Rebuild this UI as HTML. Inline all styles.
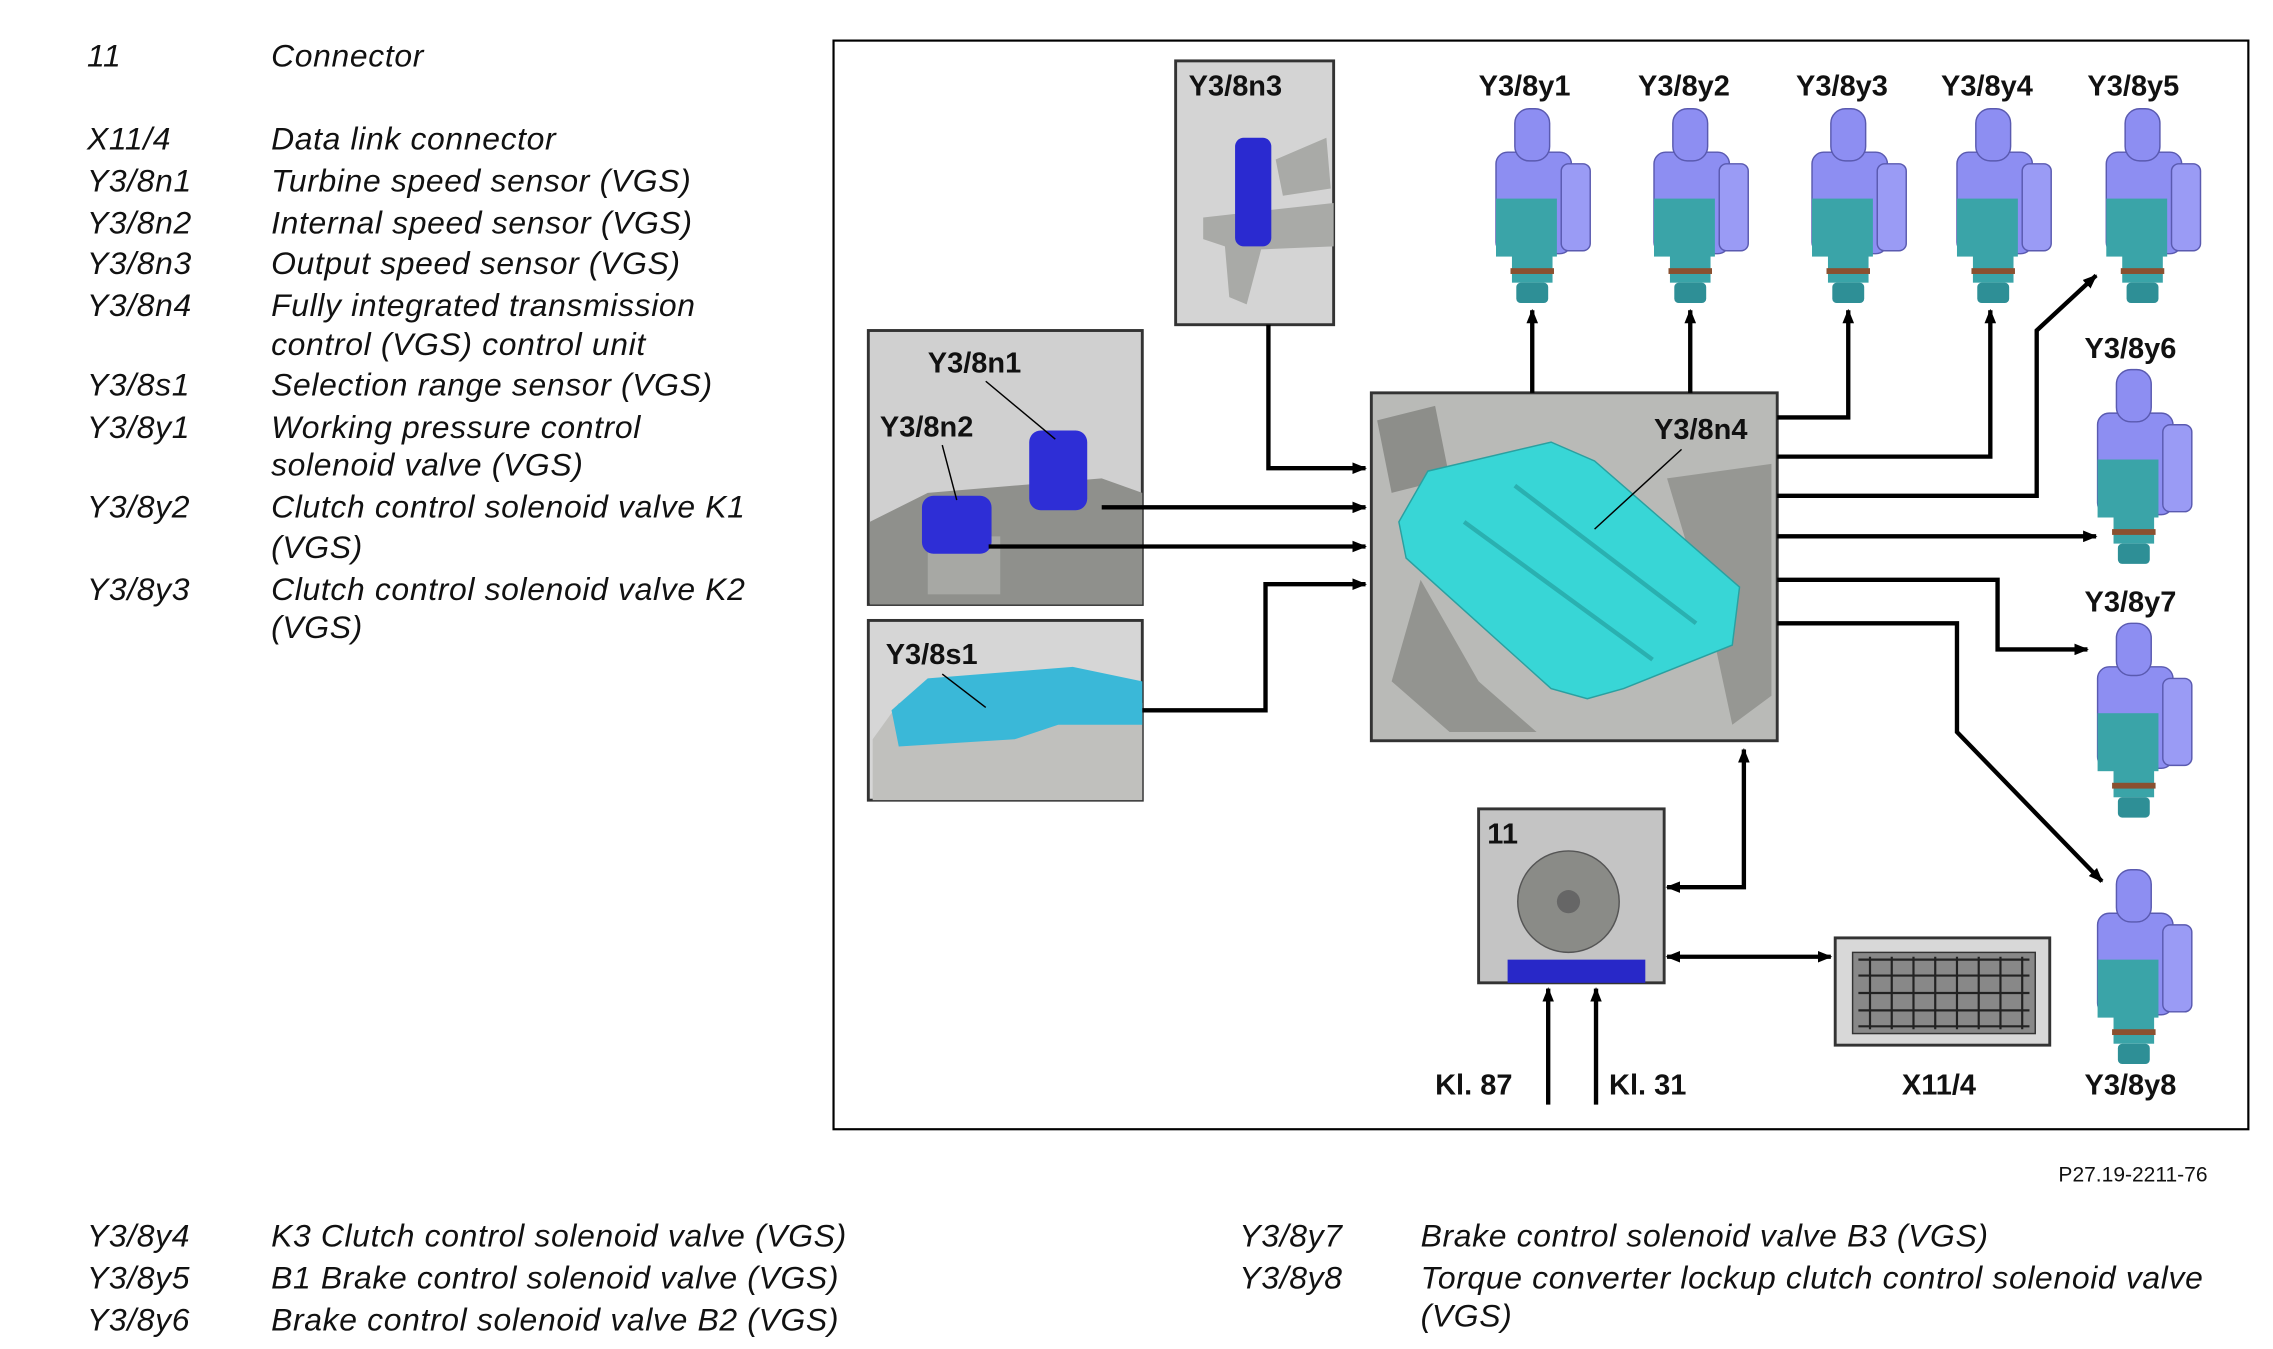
<!DOCTYPE html>
<html><head><meta charset="utf-8"><style>
html,body{margin:0;padding:0;background:#fff}
svg{display:block}
.t{font-family:"Liberation Sans",sans-serif;font-style:italic;font-size:22px;letter-spacing:0.45px;fill:#111}
.b{font-family:"Liberation Sans",sans-serif;font-weight:bold;font-size:20px;fill:#111}
</style></head><body>
<svg width="2273" height="1349" viewBox="0 0 1568 930.6" xmlns="http://www.w3.org/2000/svg">
<defs>
<marker id="a" markerWidth="10" markerHeight="8" refX="9" refY="4" orient="auto" markerUnits="userSpaceOnUse" viewBox="0 0 10 8"><path d="M0,0L10,4L0,8z" fill="#000"/></marker>
<marker id="s" markerWidth="10" markerHeight="8" refX="1" refY="4" orient="auto" markerUnits="userSpaceOnUse" viewBox="0 0 10 8"><path d="M10,0L0,4L10,8z" fill="#000"/></marker>
<g id="v">
<rect x="-25" y="30" width="52" height="70" rx="8" fill="#8d8ef2" stroke="#5a5ab0" stroke-width="1"/>
<rect x="-25" y="62" width="42" height="40" fill="#3aa4a8"/>
<rect x="20" y="38" width="20" height="60" rx="5" fill="#9a9bf5" stroke="#5a5ab0" stroke-width="1"/>
<rect x="-12" y="0" width="24" height="36" rx="10" fill="#8d8ef2" stroke="#5a5ab0" stroke-width="1"/>
<rect x="-14" y="100" width="28" height="20" fill="#3aa4a8"/>
<rect x="-15" y="110" width="30" height="4" fill="#8a5030"/>
<rect x="-11" y="120" width="22" height="14" rx="3" fill="#2e8f96"/>
</g>
</defs>
<g class="t">
<text x="60" y="46">11</text><text x="187" y="46">Connector</text>
<text x="60" y="103">X11/4</text><text x="187" y="103">Data link connector</text>
<text x="60" y="132">Y3/8n1</text><text x="187" y="132">Turbine speed sensor (VGS)</text>
<text x="60" y="161">Y3/8n2</text><text x="187" y="161">Internal speed sensor (VGS)</text>
<text x="60" y="189">Y3/8n3</text><text x="187" y="189">Output speed sensor (VGS)</text>
<text x="60" y="218">Y3/8n4</text><text x="187" y="218">Fully integrated transmission</text>
<text x="187" y="245">control (VGS) control unit</text>
<text x="60" y="273">Y3/8s1</text><text x="187" y="273">Selection range sensor (VGS)</text>
<text x="60" y="302">Y3/8y1</text><text x="187" y="302">Working pressure control</text>
<text x="187" y="328">solenoid valve (VGS)</text>
<text x="60" y="357">Y3/8y2</text><text x="187" y="357">Clutch control solenoid valve K1</text>
<text x="187" y="385">(VGS)</text>
<text x="60" y="414">Y3/8y3</text><text x="187" y="414">Clutch control solenoid valve K2</text>
<text x="187" y="440">(VGS)</text>
<text x="60" y="860">Y3/8y4</text><text x="187" y="860">K3 Clutch control solenoid valve (VGS)</text>
<text x="60" y="889">Y3/8y5</text><text x="187" y="889">B1 Brake control solenoid valve (VGS)</text>
<text x="60" y="918">Y3/8y6</text><text x="187" y="918">Brake control solenoid valve B2 (VGS)</text>
<text x="855" y="860">Y3/8y7</text><text x="980" y="860">Brake control solenoid valve B3 (VGS)</text>
<text x="855" y="889">Y3/8y8</text><text x="980" y="889">Torque converter lockup clutch control solenoid valve</text>
<text x="980" y="915">(VGS)</text>
</g>
<text x="1420" y="815" font-family="Liberation Sans,sans-serif" font-size="14.5" fill="#111">P27.19-2211-76</text>
<rect x="575" y="28" width="976" height="751" fill="none" stroke="#000" stroke-width="1.5"/>
<rect x="811" y="42" width="109" height="182" fill="#d4d4d4" stroke="#333" stroke-width="2"/>
<path d="M830,150 L920,140 L920,170 L870,172 L860,210 L848,205 L845,170 L830,165z" fill="#a9aaa7"/>
<path d="M880,110 L915,95 L918,130 L885,135z" fill="#a9aaa7"/>
<rect x="852" y="95" width="25" height="75" rx="6" fill="#2a2ad0"/>
<text class="b" x="820" y="66">Y3/8n3</text>
<rect x="599" y="228" width="189" height="189" fill="#d0d0d0" stroke="#333" stroke-width="2"/>
<path d="M600,360 L640,340 L760,330 L788,340 L788,417 L600,417z" fill="#8f908c"/>
<rect x="640" y="370" width="50" height="40" fill="#a7a8a4"/>
<rect x="710" y="297" width="40" height="55" rx="8" fill="#2e2ed6"/>
<rect x="636" y="342" width="48" height="40" rx="8" fill="#2e2ed6"/>
<text class="b" x="640" y="257">Y3/8n1</text>
<text class="b" x="607" y="301">Y3/8n2</text>
<line x1="680" y1="263" x2="728" y2="303" stroke="#000"/>
<line x1="650" y1="307" x2="660" y2="345" stroke="#000"/>
<rect x="599" y="428" width="189" height="124" fill="#d6d6d6" stroke="#333" stroke-width="2"/>
<path d="M602,510 L620,485 L700,480 L788,485 L788,552 L602,552z" fill="#c0c0bd"/>
<path d="M615,490 L640,468 L740,460 L788,470 L788,500 L730,500 L700,510 L620,515z" fill="#3ab8d8"/>
<text class="b" x="611" y="458">Y3/8s1</text>
<line x1="650" y1="465" x2="680" y2="488" stroke="#000"/>
<rect x="946" y="271" width="280" height="240" fill="#b9bab7" stroke="#333" stroke-width="2"/>
<path d="M950,290 L990,280 L1000,330 L960,340z" fill="#8d8e8a"/>
<path d="M1150,330 L1222,320 L1222,480 L1195,500 L1180,430z" fill="#969793"/>
<path d="M980,400 L960,470 L1000,505 L1060,505 L1020,470z" fill="#939490"/>
<path d="M985,325 L1070,305 L1100,318 L1200,405 L1195,445 L1120,475 L1095,482 L1070,475 L970,385 L965,360z" fill="#38d6d6" stroke="#2aa0a0"/>
<path d="M1010,360 L1140,455 M1045,335 L1170,430" stroke="#2ab0b0" stroke-width="3" fill="none"/>
<text class="b" x="1141" y="303">Y3/8n4</text>
<line x1="1160" y1="310" x2="1100" y2="365" stroke="#000"/>
<rect x="1020" y="558" width="128" height="120" fill="#c4c4c4" stroke="#333" stroke-width="2"/>
<circle cx="1082" cy="622" r="35" fill="#8a8b87" stroke="#555"/>
<circle cx="1082" cy="622" r="8" fill="#666"/>
<rect x="1040" y="662" width="95" height="16" fill="#2828c8"/>
<text class="b" x="1026" y="582">11</text>
<rect x="1266" y="647" width="148" height="74" fill="#d8d8d8" stroke="#333" stroke-width="2"/>
<rect x="1278" y="657" width="126" height="56" fill="#888" stroke="#333"/>
<g fill="none" stroke="#222" stroke-width="1.5">
<path d="M1282,662h118M1282,673h118M1282,685h118M1282,697h118M1282,708h118"/>
<path d="M1290,660v50M1305,660v50M1320,660v50M1335,660v50M1350,660v50M1365,660v50M1380,660v50M1395,660v50"/>
</g>
<use href="#v" x="1057" y="75"/><use href="#v" x="1166" y="75"/><use href="#v" x="1275" y="75"/><use href="#v" x="1375" y="75"/><use href="#v" x="1478" y="75"/>
<use href="#v" x="1472" y="255"/><use href="#v" x="1472" y="430"/><use href="#v" x="1472" y="600"/>
<g class="b">
<text x="1020" y="66">Y3/8y1</text><text x="1130" y="66">Y3/8y2</text><text x="1239" y="66">Y3/8y3</text><text x="1339" y="66">Y3/8y4</text><text x="1440" y="66">Y3/8y5</text>
<text x="1438" y="247">Y3/8y6</text><text x="1438" y="422">Y3/8y7</text><text x="1438" y="755">Y3/8y8</text>
<text x="990" y="755">Kl. 87</text><text x="1110" y="755">Kl. 31</text><text x="1312" y="755">X11/4</text>
</g>
<g stroke="#000" stroke-width="3" fill="none">
<path d="M1057,271V214" marker-end="url(#a)"/>
<path d="M1166,271V214" marker-end="url(#a)"/>
<path d="M1226,288H1275V214" marker-end="url(#a)"/>
<path d="M1226,315H1373V214" marker-end="url(#a)"/>
<path d="M1226,342H1405V228L1446,190" marker-end="url(#a)"/>
<path d="M1226,370H1446" marker-end="url(#a)"/>
<path d="M1226,400H1378V448H1440" marker-end="url(#a)"/>
<path d="M1226,430H1350V505L1450,608" marker-end="url(#a)"/>
<path d="M875,224V323H942" marker-end="url(#a)"/>
<path d="M760,350H942" marker-end="url(#a)"/>
<path d="M682,377H942" marker-end="url(#a)"/>
<path d="M788,490H873V403H942" marker-end="url(#a)"/>
<path d="M1150,612H1203V517" marker-start="url(#s)" marker-end="url(#a)"/>
<path d="M1150,660H1263" marker-start="url(#s)" marker-end="url(#a)"/>
<path d="M1068,762V682" marker-end="url(#a)"/>
<path d="M1101,762V682" marker-end="url(#a)"/>
</g>
</svg>
</body></html>
